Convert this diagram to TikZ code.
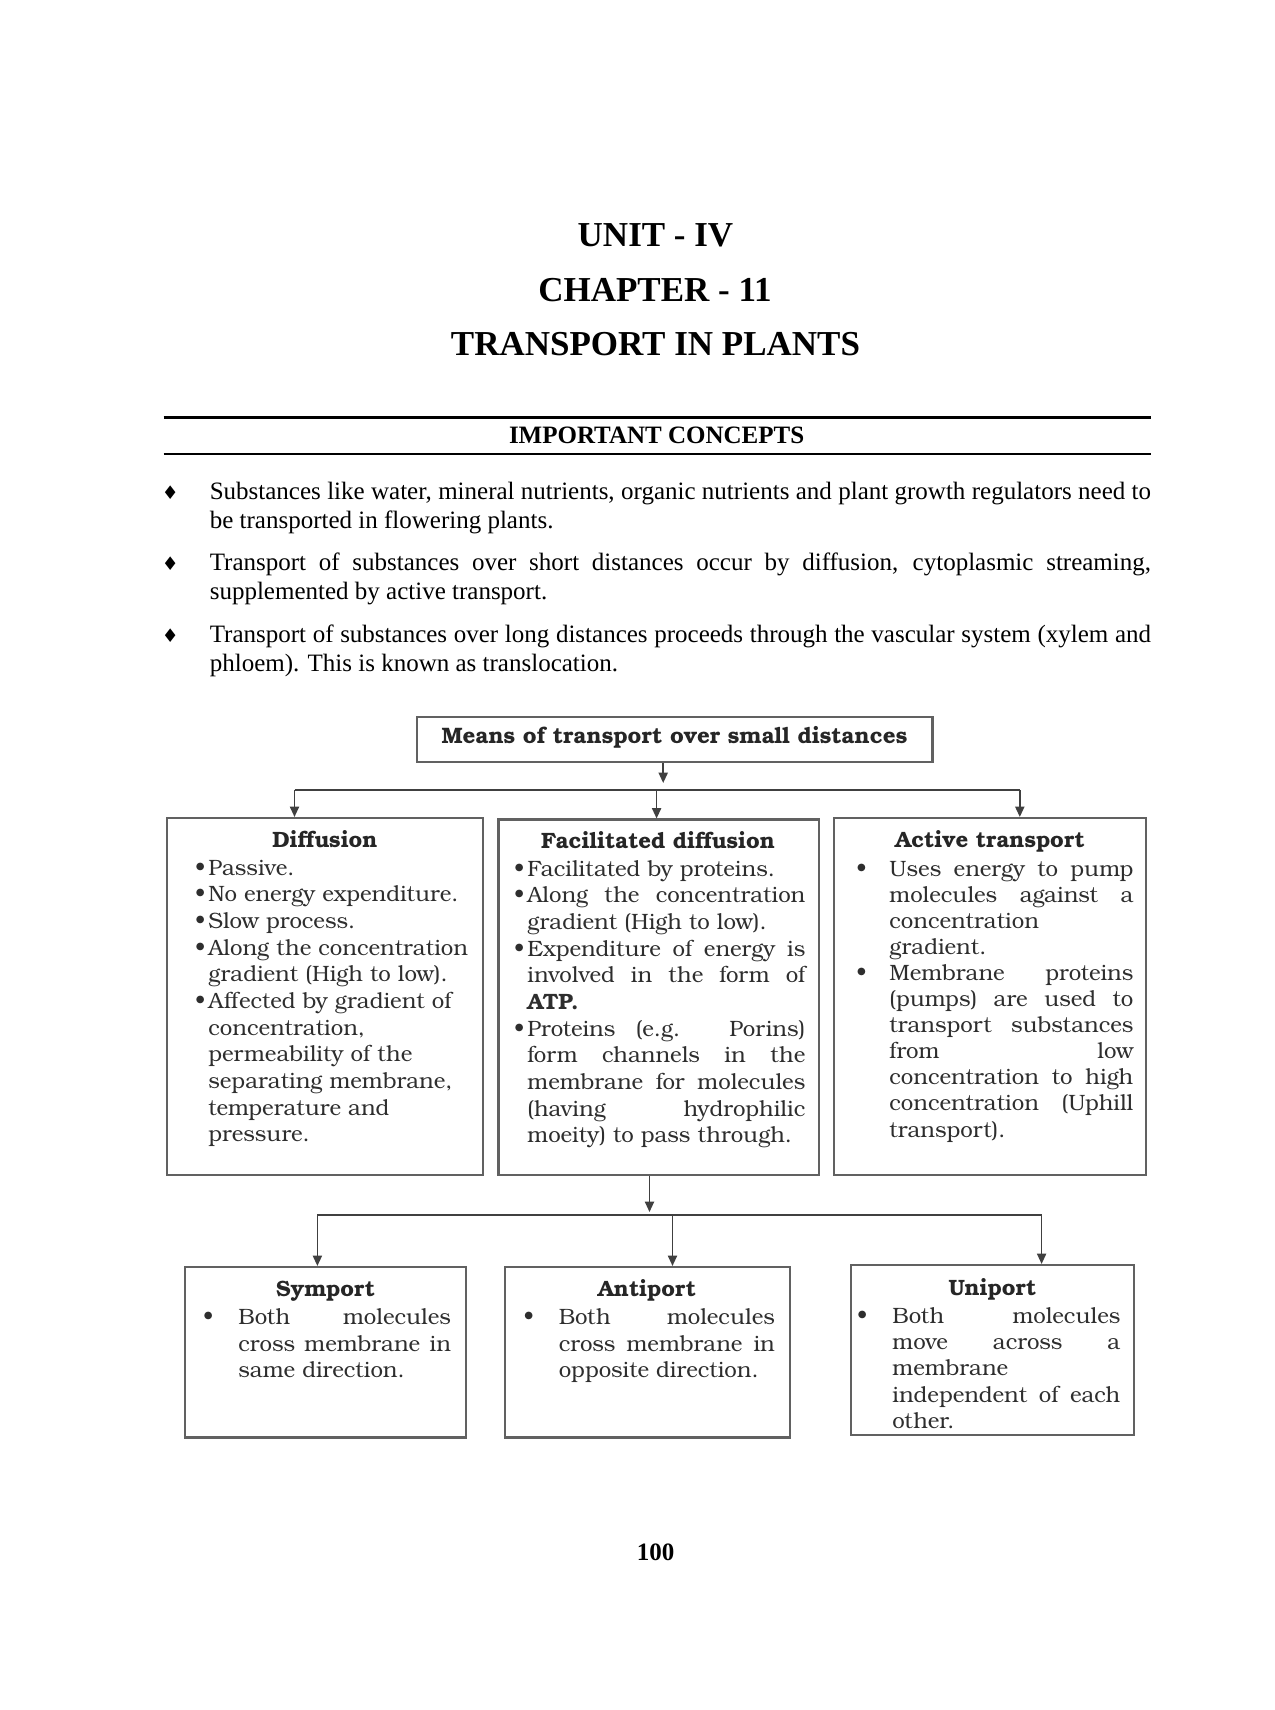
\documentclass[tikz,border=0pt]{standalone}
\usepackage{fontspec}
\setmainfont{Liberation Serif}
\newfontfamily\bk{texgyrebonum}[Extension=.otf,UprightFont=*-regular,BoldFont=*-bold,ItalicFont=*-italic,BoldItalicFont=*-bolditalic]
\newfontfamily\dvs{DejaVu Sans}
\usetikzlibrary{arrows.meta,fit}
\newcommand\J[1]{\hbox to\hsize{#1}}
\newcommand\R[1]{\hbox{#1}}
\newcommand\lines[2]{\vtop{\hsize=#1\relax\lineskiplimit=-20pt #2}}
\newcommand\bu[1]{\llap{\textbullet\hspace{#1}}}
\newcommand\dm{\llap{{\dvs\fontsize{9}{9}\selectfont ♦}\hspace{15pt}}}
\begin{document}
\begin{tikzpicture}[x=0.48pt,y=-0.48pt,
 tbox/.style={draw=black!62,line width=1pt,inner sep=0pt},
 conn/.style={draw=black!75,line width=0.8pt},
 arr/.style={conn,-{Triangle[length=5pt,width=4.4pt]}},
 dtxt/.style={font=\bk\fontsize{10.65}{12.8}\selectfont,text=black!82,inner sep=0pt,anchor=base west},
 dttl/.style={font=\bk\bfseries\fontsize{10.65}{12.8}\selectfont,text=black!85,inner sep=0pt,anchor=base},
 ptxt/.style={font=\fontsize{12}{14.16}\selectfont,inner sep=0pt,anchor=base west},
 htitle/.style={font=\bfseries\fontsize{16.8}{20}\selectfont,inner sep=0pt,anchor=base}]
\fill[white] (0,0) rectangle (1275,1710);
\useasboundingbox (0,0) rectangle (1275,1710);

% headings
\node[htitle] (t1) at (655.5,246.5) {UNIT - IV};
\node[htitle] (t2) at (655,301.5) {CHAPTER - 11};
\node[htitle] (t3) at (655.5,355.5) {TRANSPORT IN PLANTS};
\draw[line width=1.1pt] (163.6,417.5) -- (1150.7,417.5);
\node[font=\bfseries\fontsize{12}{14}\selectfont,anchor=base,inner sep=0pt] (ic) at (656.6,443.3) {IMPORTANT CONCEPTS};
\draw[line width=1.1pt] (163.6,454) -- (1150.7,454);

% bullet paragraphs
\node[ptxt] (p1) at (209.4,499) {\lines{451.8pt}{\J{\dm Substances like water, mineral nutrients, organic nutrients and plant growth regulators need to}\R{be transported in flowering plants.}}};
\node[ptxt] (p2) at (209.4,570) {\lines{451.8pt}{\J{\dm Transport of substances over short distances occur by diffusion, cytoplasmic streaming,}\R{supplemented by active transport.}}};
\node[ptxt] (p3) at (209.4,642) {\lines{451.8pt}{\J{\dm Transport of substances over long distances proceeds through the vascular system (xylem and}\R{phloem). This is known as translocation.}}};

% top box
\node[tbox,fit={(416.6,716.6)(932.5,762.4)}] (means) {};
\node[font=\bk\bfseries\fontsize{10.72}{12.8}\selectfont,text=black!85,anchor=base,inner sep=0pt] (meanst) at (674.5,743) {Means of transport over small distances};

% row 1 boxes
\node[tbox,fit={(166.9,818)(483.2,1174.7)}] (diff) {};
\node[tbox,fit={(498.5,819.5)(819.1,1174.7)}] (fac) {};
\node[tbox,fit={(834.4,818)(1146.3,1174.7)}] (act) {};

\node[dttl] (difft) at (325,847) {Diffusion};
\node[dttl] (fact) at (658,848) {Facilitated diffusion};
\node[dttl] (actt) at (990,847) {Active transport};

\node[dtxt] (diffb) at (208,875) {\lines{135pt}{%
\R{\bu{1.5pt}Passive.}%
\R{\bu{1.5pt}No energy expenditure.}%
\R{\bu{1.5pt}Slow process.}%
\R{\bu{1.5pt}Along the concentration}%
\R{gradient (High to low).}%
\R{\bu{1.5pt}Affected by gradient of}%
\R{concentration,}%
\R{permeability of the}%
\R{separating membrane,}%
\R{temperature and}%
\R{pressure.}}};

\node[dtxt] (facb) at (527,876) {\lines{133.4pt}{%
\R{\bu{1.5pt}Facilitated by proteins.}%
\J{\bu{1.5pt}Along the concentration}%
\R{gradient (High to low).}%
\J{\bu{1.5pt}Expenditure of energy is}%
\J{involved in the form of}%
\R{\bfseries ATP.}%
\J{\bu{1.5pt}Proteins (e.g. Porins)}%
\J{form channels in the}%
\J{membrane for molecules}%
\J{(having hydrophilic}%
\R{moeity) to pass through.}}};

\node[dtxt,font=\bk\fontsize{10.65}{12.53}\selectfont] (actb) at (889,876) {\lines{117.1pt}{%
\J{\bu{11pt}Uses energy to pump}%
\J{molecules against a}%
\R{concentration}%
\R{gradient.}%
\J{\bu{11pt}Membrane proteins}%
\J{(pumps) are used to}%
\J{transport substances}%
\J{from low}%
\J{concentration to high}%
\J{concentration (Uphill}%
\R{transport).}}};

% row 2 boxes
\node[tbox,fit={(185.4,1267)(465.7,1437.5)}] (sym) {};
\node[tbox,fit={(505,1267)(789.7,1437.5)}] (anti) {};
\node[tbox,fit={(850.8,1265)(1134.3,1435)}] (uni) {};

\node[dttl] (symt) at (325.5,1296) {Symport};
\node[dttl] (antit) at (647,1296) {Antiport};
\node[dttl] (unit) at (992.5,1295) {Uniport};

\node[dtxt] (symb) at (238,1324.5) {\lines{102pt}{%
\J{\bu{12pt}Both molecules}%
\J{cross membrane in}%
\R{same direction.}}};
\node[dtxt] (antib) at (558.4,1324.5) {\lines{103.7pt}{%
\J{\bu{12pt}Both molecules}%
\J{cross membrane in}%
\R{opposite direction.}}};
\node[dtxt,font=\bk\fontsize{10.65}{12.6}\selectfont] (unib) at (892,1323.4) {\lines{109.4pt}{%
\J{\bu{12pt}Both molecules}%
\J{move across a}%
\R{membrane}%
\J{independent of each}%
\R{other.}}};

% connectors
\coordinate (j1t) at (663.2,783);
\draw[arr] (means.south -| j1t) -- (j1t);
\coordinate (h1L) at (294.5,790);
\coordinate (h1M) at (656.6,790);
\coordinate (h1R) at (1019.8,790);
\draw[conn] (h1L) -- (h1R);
\draw[arr] (h1L) -- (h1L |- diff.north);
\draw[arr] (h1M) -- (h1M |- fac.north);
\draw[arr] (h1R) -- (h1R |- act.north);

\coordinate (j2t) at (649.5,1212);
\draw[arr] (fac.south -| j2t) -- (j2t);
\coordinate (h2L) at (317.4,1215);
\coordinate (h2M) at (672.5,1215);
\coordinate (h2R) at (1041.6,1215);
\draw[conn] (h2L) -- (h2R);
\draw[arr] (h2L) -- (h2L |- sym.north);
\draw[arr] (h2M) -- (h2M |- anti.north);
\draw[arr] (h2R) -- (h2R |- uni.north);

\node[font=\bfseries\fontsize{12}{14}\selectfont,anchor=base,inner sep=0pt] (pg) at (655.5,1560) {100};
\end{tikzpicture}
\end{document}
